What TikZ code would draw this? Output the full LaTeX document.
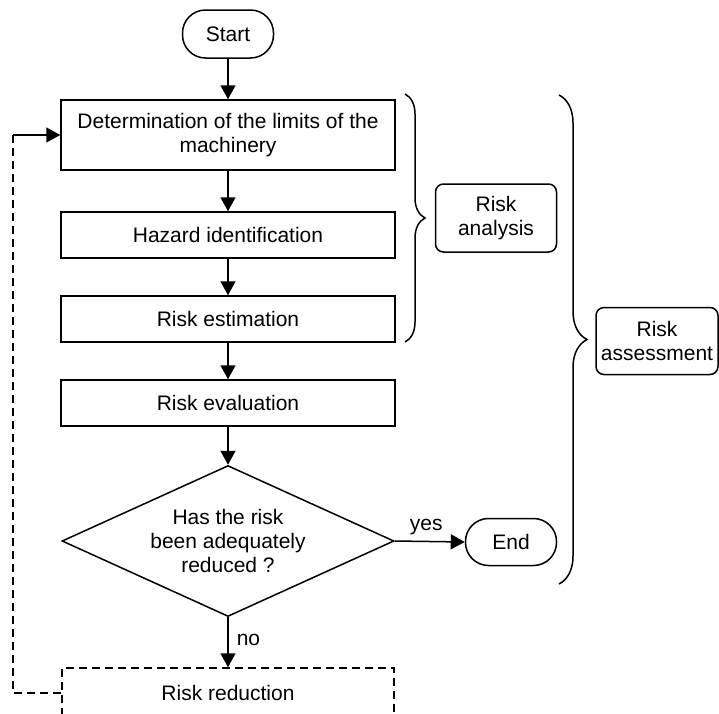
\documentclass[tikz,border=0pt]{standalone}
\usepackage{fontspec}
\setmainfont{Liberation Sans}
\usetikzlibrary{arrows.meta,shapes.geometric,decorations.pathreplacing}
\begin{document}
\begin{tikzpicture}[x=1pt,y=-1pt,
  every node/.style={font=\fontsize{21}{24}\selectfont, line width=1.5pt, inner sep=0pt, align=center},
  stepbox/.style={draw, minimum width=334pt},
  terminal/.style={draw, rounded corners=23pt, minimum width=91pt, minimum height=48pt},
  labelbox/.style={draw, rounded corners=8pt},
  decision/.style={draw, diamond, aspect=2.2, minimum width=332pt, minimum height=151pt},
  flow/.style={line width=1.5pt, -{Triangle[length=14pt,width=15pt]}},
  dashflow/.style={line width=1.5pt, dash pattern=on 8pt off 5pt},
  bracestyle/.style={line width=1.5pt, decorate, decoration={brace, amplitude=#1}}
]
\useasboundingbox (0,0) rectangle (719,713);
\clip (0,0) rectangle (719,713);

\node[terminal] (start) at (228,34) {Start};
\node[stepbox, minimum height=70pt] (b1) at (228,135) {Determination of the limits of the\\machinery};
\node[stepbox, minimum height=46pt] (b2) at (228,235) {Hazard identification};
\node[stepbox, minimum height=46pt] (b3) at (228,319) {Risk estimation};
\node[stepbox, minimum height=46pt] (b4) at (228,403) {Risk evaluation};
\node[decision] (dec) at (228,541) {Has the risk\\been adequately\\reduced ?};
\node[terminal, minimum height=47pt] (end) at (511,542) {End};
\node[draw, dash pattern=on 8pt off 5pt, minimum width=332pt, minimum height=50pt] (rr) at (228,693) {Risk reduction};

\node[labelbox, minimum width=121pt, minimum height=68pt] (ra) at (496,218) {Risk\\analysis};
\node[labelbox, minimum width=122pt, minimum height=67pt] (ras) at (657,341) {Risk\\assessment};

\draw[flow] (start) -- (b1);
\draw[flow] (b1) -- (b2);
\draw[flow] (b2) -- (b3);
\draw[flow] (b3) -- (b4);
\draw[flow] (b4) -- (dec);
\draw[flow] (dec.east) -- node[pos=0.45, above=6pt, inner sep=0pt] (yes) {yes} (end.west);
\draw[flow] (dec.south) -- node[right=8pt, pos=0.45] (no) {no} (rr.north);

\coordinate (lb) at (13,693);
\coordinate (lt) at (13,135);
\draw[dashflow] (rr.west) -- (lb) -- (lt);
\draw[line width=1.5pt, -{Triangle[length=14pt,width=15pt]}] (lt) -- (b1.west);

\coordinate (br1a) at (405,94);
\coordinate (br1b) at (405,342);
\draw[bracestyle=20pt] (br1a) -- (br1b);
\coordinate (br2a) at (559,95);
\coordinate (br2b) at (559,584);
\draw[bracestyle=28pt] (br2a) -- (br2b);
\end{tikzpicture}
\end{document}
